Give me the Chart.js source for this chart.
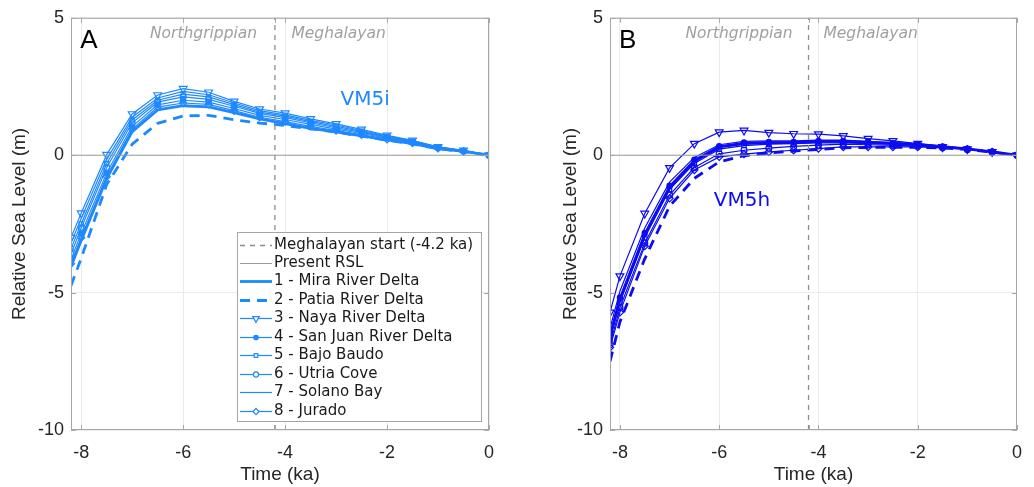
<!DOCTYPE html>
<html><head><meta charset="utf-8">
<script src="https://cdn.jsdelivr.net/npm/chart.js@4.4.0/dist/chart.umd.min.js"></script>
<style>
html,body{margin:0;padding:0;background:#fff;}
#wrap{position:relative;width:1034px;height:487px;overflow:hidden;}
canvas{position:absolute;top:0;}
</style></head><body>
<div id="wrap">
<canvas id="ca" width="517" height="487" style="left:0"></canvas>
<canvas id="cb" width="517" height="487" style="left:517px"></canvas>
</div>
<script>
// ---------- data ----------
const time = [-8.2,-8,-7.5,-7,-6.5,-6,-5.5,-5,-4.5,-4,-3.5,-3,-2.5,-2,-1.5,-1,-0.5,0];
const xTicks = [-8,-6,-4,-2,0];
const yTicks = [-10,-5,0,5];
const meghalayanStart = -4.2;
const siteLabels = ["1 - Mira River Delta","2 - Patia River Delta","3 - Naya River Delta","4 - San Juan River Delta","5 - Bajo Baudo","6 - Utria Cove","7 - Solano Bay","8 - Jurado"];

// VM5i (panel A)
const vm5iMira     = [-4.05,-3.10,-0.85,0.86,1.65,1.80,1.76,1.55,1.32,1.15,0.98,0.85,0.70,0.56,0.42,0.24,0.14,0];
const vm5iPatia    = [-4.75,-3.75,-1.07,0.40,1.16,1.43,1.45,1.29,1.17,1.08,0.96,0.84,0.69,0.55,0.41,0.24,0.13,0];
const vm5iNaya     = [-3.00,-2.11,0.02,1.50,2.19,2.42,2.29,1.96,1.68,1.53,1.32,1.14,0.94,0.72,0.54,0.30,0.18,0];
const vm5iSanJuan  = [-3.80,-2.85,-0.65,1.05,1.83,2.00,1.93,1.70,1.45,1.30,1.12,0.95,0.79,0.62,0.46,0.27,0.15,0];
const vm5iBajo     = [-3.40,-2.50,-0.30,1.28,2.00,2.22,2.12,1.84,1.57,1.42,1.22,1.05,0.87,0.67,0.50,0.29,0.16,0];
const vm5iUtria    = [-3.60,-2.65,-0.45,1.18,1.93,2.12,2.03,1.78,1.52,1.37,1.18,1.00,0.83,0.65,0.48,0.28,0.15,0];
const vm5iSolano   = [-3.20,-2.30,-0.15,1.38,2.08,2.32,2.20,1.90,1.62,1.47,1.27,1.10,0.90,0.70,0.52,0.30,0.17,0];
const vm5iJurado   = [-3.95,-3.00,-0.78,0.95,1.75,1.90,1.85,1.62,1.38,1.22,1.05,0.90,0.74,0.58,0.44,0.25,0.14,0];

// VM5h (panel B)
const vm5hMira     = [-6.60,-5.25,-2.90,-1.18,-0.22,0.30,0.42,0.46,0.46,0.50,0.50,0.47,0.43,0.39,0.31,0.23,0.12,0];
const vm5hPatia    = [-7.50,-6.07,-3.77,-1.86,-0.84,-0.24,-0.02,0.08,0.15,0.21,0.27,0.28,0.29,0.29,0.26,0.21,0.11,0];
const vm5hNaya     = [-5.72,-4.40,-2.12,-0.46,0.42,0.84,0.90,0.82,0.78,0.77,0.70,0.60,0.52,0.42,0.30,0.22,0.12,0];
const vm5hSanJuan  = [-6.50,-5.18,-2.83,-1.11,-0.16,0.33,0.46,0.48,0.48,0.52,0.52,0.48,0.44,0.40,0.32,0.24,0.13,0];
const vm5hBajo     = [-6.70,-5.35,-3.00,-1.25,-0.30,0.22,0.35,0.40,0.42,0.45,0.45,0.42,0.40,0.36,0.30,0.22,0.12,0];
const vm5hUtria    = [-6.90,-5.55,-3.20,-1.45,-0.45,0.05,0.18,0.26,0.32,0.37,0.40,0.38,0.36,0.33,0.28,0.21,0.11,0];
const vm5hSolano   = [-6.30,-4.95,-2.65,-0.98,-0.08,0.38,0.50,0.52,0.52,0.55,0.55,0.50,0.46,0.41,0.33,0.24,0.13,0];
const vm5hJurado   = [-7.00,-5.72,-3.31,-1.57,-0.54,-0.06,0.04,0.12,0.18,0.24,0.30,0.30,0.30,0.30,0.27,0.22,0.12,0];

// ---------- styling ----------
const colA = '#1e88ff';
const colB = '#0c0cf0';
const greyRef = '#8c8c8c';
const tickFont = {family:'Liberation Sans, Arial, sans-serif', size:18};
const titleFont = {family:'Liberation Sans, Arial, sans-serif', size:19};
const txtFont = 'DejaVu Sans, Verdana, sans-serif';

function pts(arr){ return time.map((t,i)=>({x:t,y:arr[i]})); }

const siteStyles = [
  {borderWidth:2.8, pointRadius:0},
  {borderWidth:2.8, borderDash:[10,7], pointRadius:0},
  {borderWidth:1.2, pointStyle:'triangle', pointRotation:180, pointRadius:4.5, hollow:true},
  {borderWidth:1.2, pointStyle:'circle', pointRadius:2.6, hollow:false},
  {borderWidth:1.2, pointStyle:'rect', pointRadius:3, hollow:true},
  {borderWidth:1.2, pointStyle:'circle', pointRadius:3, hollow:true},
  {borderWidth:1.2, pointRadius:0},
  {borderWidth:1.2, pointStyle:'rectRot', pointRadius:3.6, hollow:true},
];

function buildDatasets(series, color){
  const ds = [
    {label:'Meghalayan start (-4.2 ka)', data:[{x:meghalayanStart,y:yTicks[0]},{x:meghalayanStart,y:yTicks[yTicks.length-1]}],
     borderColor:greyRef, borderWidth:1.3, borderDash:[5,5], pointRadius:0},
    {label:'Present RSL', data:[{x:time[0],y:0},{x:time[time.length-1],y:0}],
     borderColor:'#9a9a9a', borderWidth:1, pointRadius:0},
  ];
  series.forEach((arr,i)=>{
    const s = siteStyles[i];
    ds.push({
      label: siteLabels[i], data: pts(arr),
      borderColor: color, borderWidth: s.borderWidth, borderDash: s.borderDash || [],
      pointStyle: s.pointStyle || 'circle', pointRotation: s.pointRotation || 0,
      pointRadius: s.pointRadius, pointBorderColor: color, pointBorderWidth: 1.2,
      pointBackgroundColor: s.hollow ? 'rgba(255,255,255,0)' : color,
      tension: 0, fill:false
    });
  });
  return ds;
}

const framePlugin = {
  id:'frame',
  afterDatasetsDraw(chart){
    const {ctx, chartArea:a, scales} = chart;
    ctx.save();
    ctx.strokeStyle = '#a6a6a6'; ctx.lineWidth = 1;
    ctx.strokeRect(a.left+0.5, a.top+0.5, a.right-a.left-1, a.bottom-a.top-1);
    ctx.beginPath();
    xTicks.concat([meghalayanStart]).forEach(v=>{
      const x = Math.round(scales.x.getPixelForValue(v))+0.5;
      ctx.moveTo(x,a.bottom); ctx.lineTo(x,a.bottom-5);
      ctx.moveTo(x,a.top); ctx.lineTo(x,a.top+5);
    });
    yTicks.forEach(v=>{
      const y = Math.round(scales.y.getPixelForValue(v))+0.5;
      ctx.moveTo(a.left,y); ctx.lineTo(a.left+5,y);
      ctx.moveTo(a.right,y); ctx.lineTo(a.right-5,y);
    });
    ctx.stroke();
    ctx.restore();
  }
};

function textPlugin(items){
  return {
    id:'texts',
    afterDatasetsDraw(chart){
      const {ctx, scales} = chart;
      ctx.save();
      items.forEach(it=>{
        ctx.font = it.font; ctx.fillStyle = it.color;
        ctx.textAlign = it.align || 'center'; ctx.textBaseline = 'middle';
        ctx.fillText(it.text, scales.x.getPixelForValue(it.x), scales.y.getPixelForValue(it.y));
      });
      ctx.restore();
    }
  };
}

const legendPlugin = {
  id:'boxLegend',
  afterDraw(chart){
    const {ctx} = chart;
    const L = 237, T = 232, W = 244, H = 189, rowH = 18.45, y0 = 244.5;
    ctx.save();
    ctx.fillStyle = '#fff'; ctx.fillRect(L, T, W, H);
    ctx.strokeStyle = '#a6a6a6'; ctx.lineWidth = 1; ctx.strokeRect(L+0.5, T+0.5, W, H);
    chart.data.datasets.forEach((d,i)=>{
      const y = Math.round(y0 + i*rowH) + 0.5;
      ctx.strokeStyle = d.borderColor; ctx.lineWidth = d.borderWidth;
      ctx.setLineDash(d.borderDash || []);
      ctx.beginPath(); ctx.moveTo(240,y); ctx.lineTo(272,y); ctx.stroke();
      ctx.setLineDash([]);
      if (d.pointRadius > 0){
        ctx.fillStyle = d.pointBackgroundColor === 'rgba(255,255,255,0)' ? '#fff' : d.pointBackgroundColor;
        ctx.strokeStyle = d.pointBorderColor; ctx.lineWidth = 1.2;
        Chart.helpers.drawPoint(ctx, {pointStyle:d.pointStyle, rotation:d.pointRotation, radius:d.pointRadius*0.85, borderWidth:1.2},
          256, y);
      }
      ctx.fillStyle = '#1a1a1a'; ctx.font = '15px ' + txtFont;
      ctx.textAlign = 'left'; ctx.textBaseline = 'middle';
      ctx.fillText(d.label, 274, y);
    });
    ctx.restore();
  }
};

function makeChart(id, series, color, pad, yWidth, texts, extraPlugins){
  return new Chart(document.getElementById(id), {
    type:'line',
    data:{datasets: buildDatasets(series, color)},
    options:{
      responsive:false, animation:false, events:[],
      layout:{padding:pad},
      plugins:{legend:{display:false}, tooltip:{enabled:false}},
      scales:{
        x:{type:'linear', min:time[0], max:time[time.length-1],
           afterBuildTicks: s=>{ s.ticks = xTicks.map(v=>({value:v})); },
           afterFit: s=>{ s.height = 57; },
           grid:{color:'#ebebeb', drawTicks:false, lineWidth:1},
           border:{display:false},
           ticks:{font:tickFont, color:'#262626', padding:12, maxRotation:0, callback:v=>String(v)},
           title:{display:true, text:'Time (ka)', font:titleFont, color:'#262626', padding:{top:0,bottom:1}}},
        y:{type:'linear', min:yTicks[0], max:yTicks[yTicks.length-1],
           afterBuildTicks: s=>{ s.ticks = yTicks.map(v=>({value:v})); },
           afterFit: s=>{ s.width = yWidth; },
           grid:{color:'#ebebeb', drawTicks:false, lineWidth:1},
           border:{display:false},
           ticks:{font:tickFont, color:'#262626', padding:7, callback:v=>String(v)},
           title:{display:true, text:'Relative Sea Level (m)', font:titleFont, color:'#262626', padding:{top:4,bottom:0}}}
      }
    },
    plugins:[framePlugin, textPlugin(texts)].concat(extraPlugins)
  });
}

const commonTexts = (letter, labelTxt, lx, ly, col) => [
  {text:letter, x:-8.02, y:4.18, font:'26px Liberation Sans, Arial, sans-serif', color:'#000', align:'left'},
  {text:'Northgrippian', x:-5.6, y:4.42, font:'italic 15.5px '+txtFont, color:'#a0a0a0'},
  {text:'Meghalayan', x:-2.95, y:4.42, font:'italic 15.5px '+txtFont, color:'#a0a0a0'},
  {text:labelTxt, x:lx, y:ly, font:'20px '+txtFont, color:col},
];

makeChart('ca', [vm5iMira,vm5iPatia,vm5iNaya,vm5iSanJuan,vm5iBajo,vm5iUtria,vm5iSolano,vm5iJurado], colA,
  {left:4,right:28,top:15,bottom:0}, 67, commonTexts('A','VM5i',-2.43,2.03,colA), [legendPlugin]);
makeChart('cb', [vm5hMira,vm5hPatia,vm5hNaya,vm5hSanJuan,vm5hBajo,vm5hUtria,vm5hSolano,vm5hJurado], colB,
  {left:38,right:4,top:15,bottom:0}, 55, commonTexts('B','VM5h',-5.54,-1.66,colB), []);
</script>
</body></html>
